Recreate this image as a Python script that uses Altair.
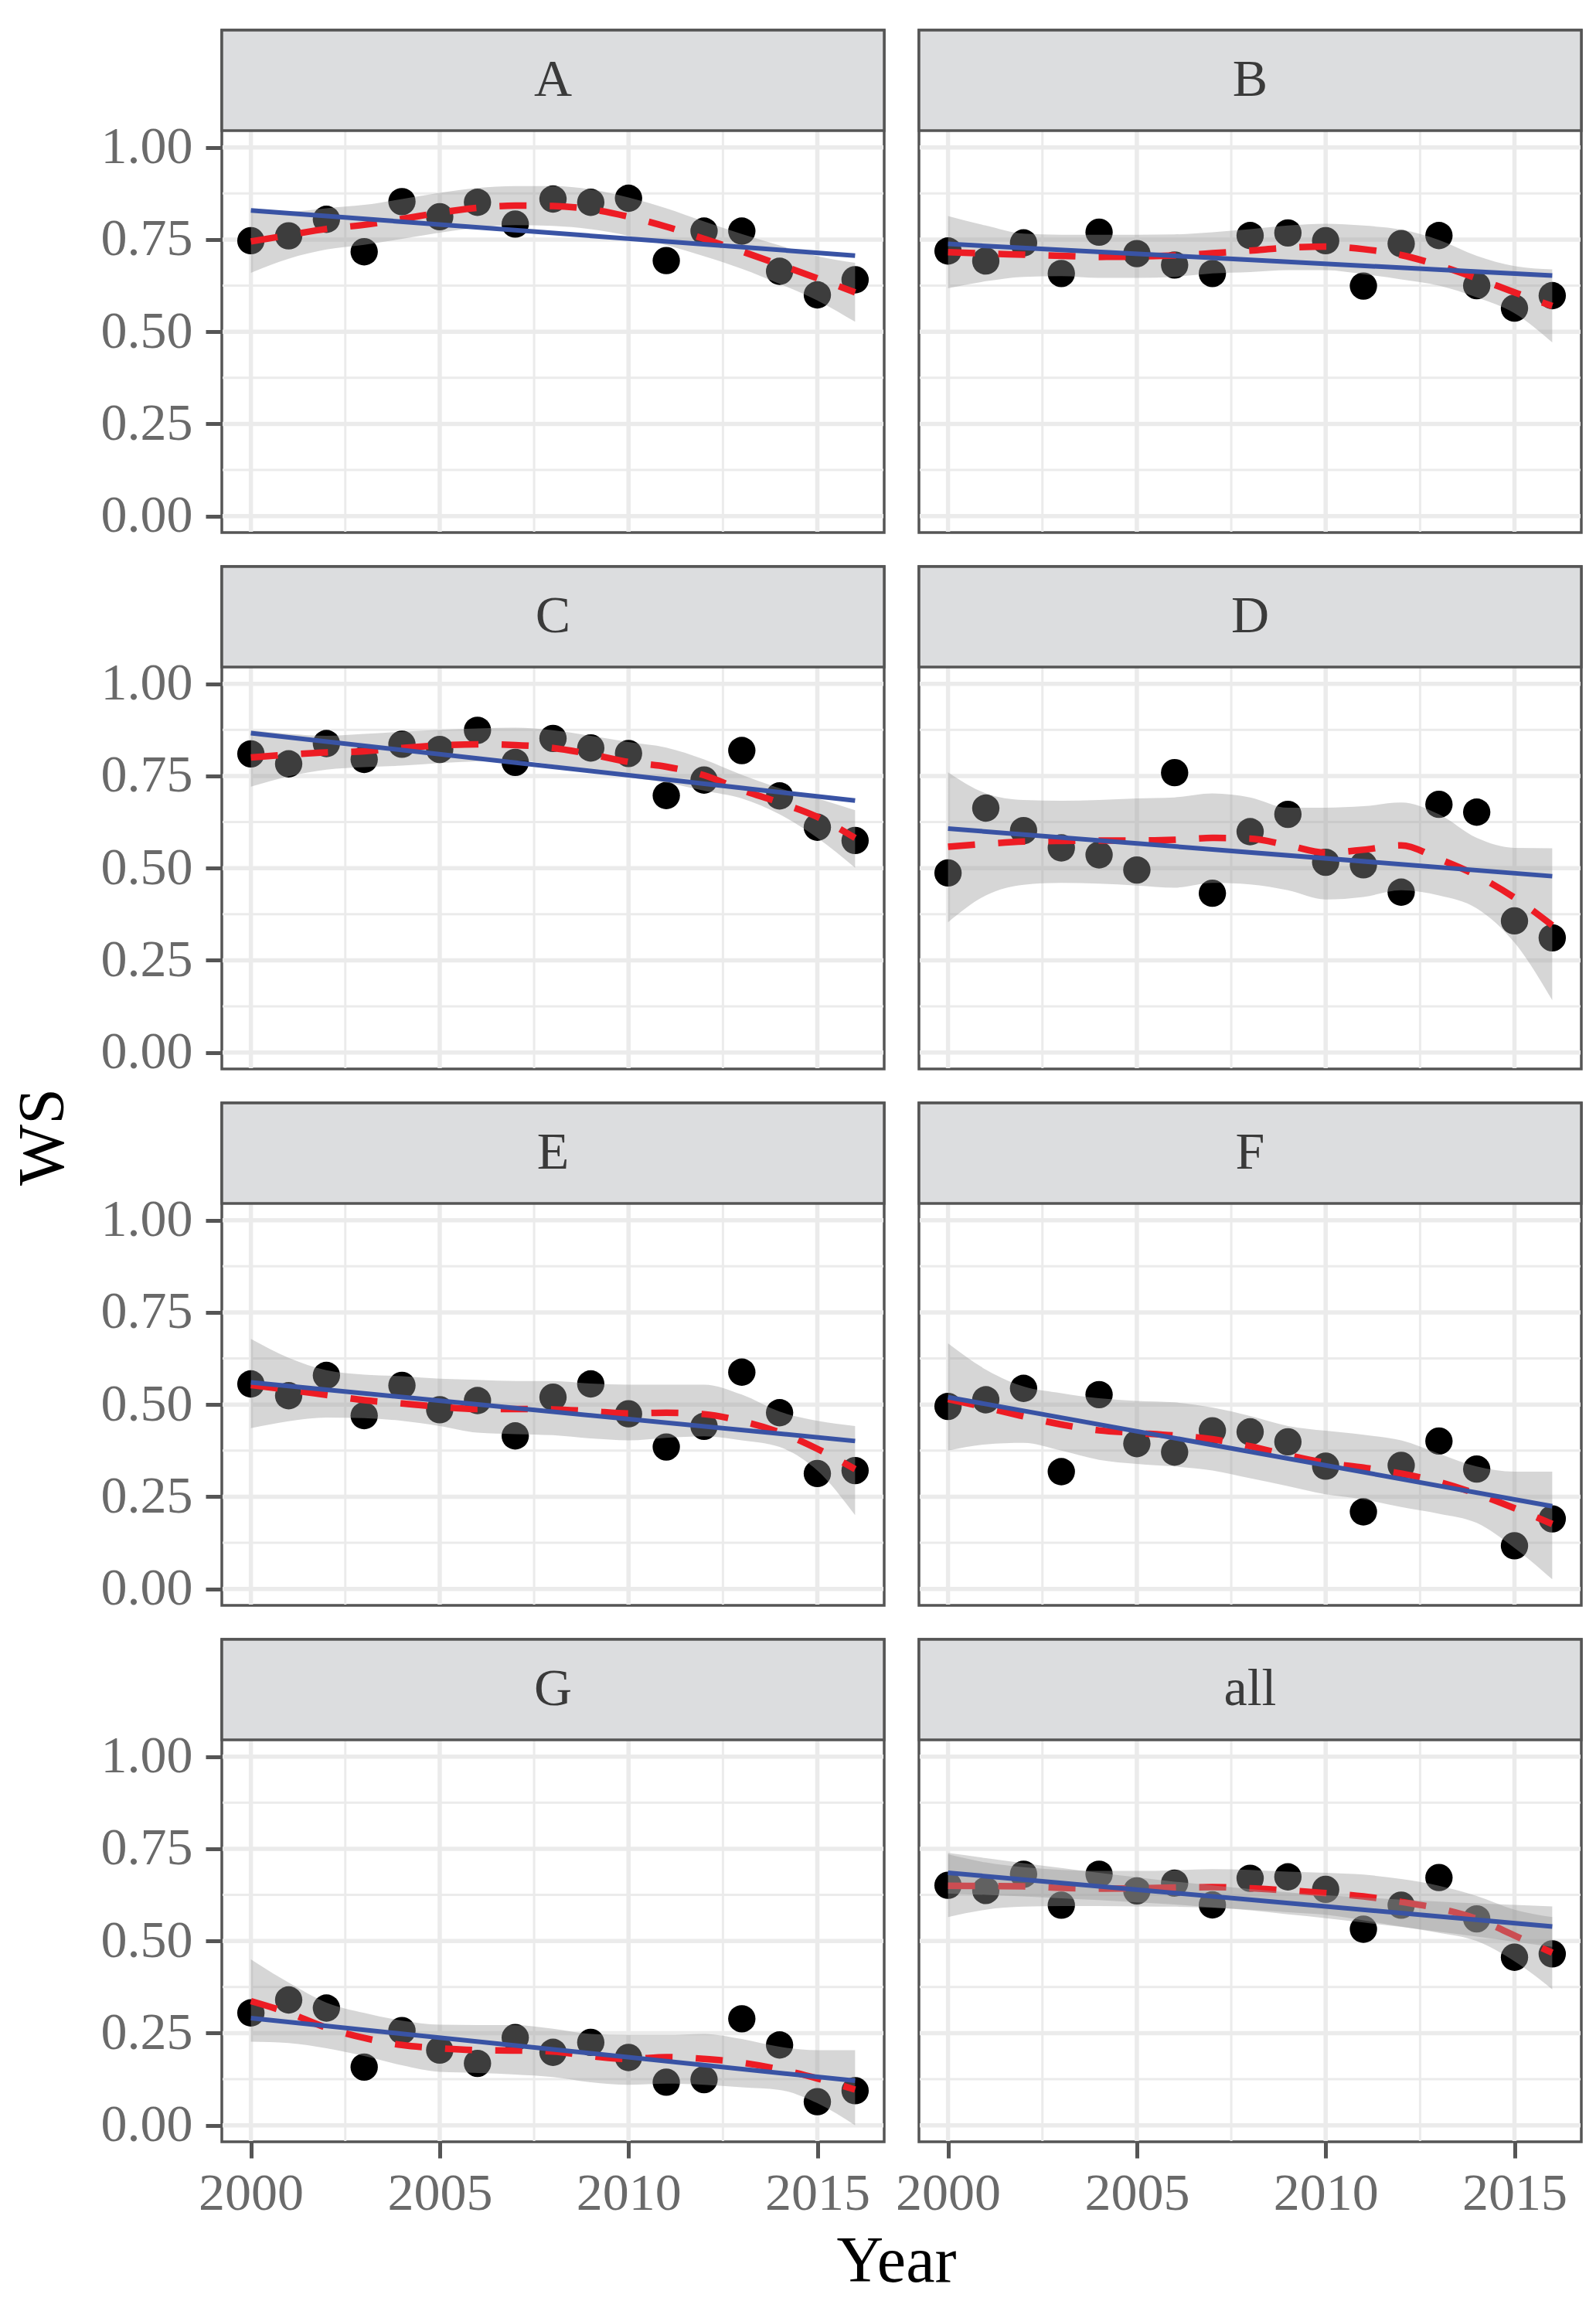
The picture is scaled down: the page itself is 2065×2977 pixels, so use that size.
import altair as alt
import pandas as pd

# ---------------- data ----------------
YEARS = list(range(2000, 2017))
PANELS = ["A", "B", "C", "D", "E", "F", "G", "all"]

WS_A = [0.747, 0.760, 0.805, 0.717, 0.853, 0.812, 0.851, 0.792, 0.860, 0.851, 0.862, 0.693, 0.773, 0.773, 0.664, 0.600, 0.641]
WS_B = [0.719, 0.692, 0.741, 0.658, 0.770, 0.712, 0.681, 0.658, 0.761, 0.768, 0.747, 0.624, 0.739, 0.761, 0.625, 0.564, 0.598]
WS_C = [0.810, 0.783, 0.838, 0.795, 0.836, 0.822, 0.874, 0.787, 0.852, 0.826, 0.811, 0.697, 0.739, 0.819, 0.696, 0.611, 0.575]
WS_D = [0.487, 0.663, 0.602, 0.555, 0.536, 0.495, 0.759, 0.432, 0.599, 0.646, 0.516, 0.509, 0.435, 0.673, 0.652, 0.357, 0.311]
WS_E = [0.556, 0.524, 0.579, 0.470, 0.552, 0.486, 0.511, 0.415, 0.520, 0.556, 0.475, 0.385, 0.441, 0.588, 0.478, 0.313, 0.321]
WS_F = [0.495, 0.513, 0.544, 0.318, 0.527, 0.394, 0.371, 0.429, 0.426, 0.399, 0.333, 0.209, 0.335, 0.401, 0.325, 0.117, 0.190]
WS_G = [0.305, 0.340, 0.318, 0.158, 0.257, 0.204, 0.168, 0.238, 0.198, 0.225, 0.184, 0.117, 0.124, 0.289, 0.218, 0.064, 0.094]
WS_ALL = [0.651, 0.637, 0.681, 0.597, 0.681, 0.636, 0.657, 0.598, 0.670, 0.674, 0.640, 0.532, 0.597, 0.672, 0.560, 0.456, 0.465]

# loess (red dashed) fit and its confidence band
FIT_A = [0.745, 0.762, 0.779, 0.790, 0.806, 0.823, 0.836, 0.842, 0.841, 0.832, 0.812, 0.785, 0.752, 0.718, 0.682, 0.645, 0.607]
HI_A = [0.830, 0.826, 0.835, 0.844, 0.860, 0.877, 0.890, 0.895, 0.895, 0.886, 0.864, 0.835, 0.799, 0.765, 0.734, 0.705, 0.687]
LO_A = [0.660, 0.698, 0.723, 0.736, 0.752, 0.769, 0.782, 0.789, 0.787, 0.778, 0.760, 0.735, 0.705, 0.671, 0.630, 0.585, 0.527]

FIT_B = [0.716, 0.712, 0.709, 0.706, 0.703, 0.704, 0.707, 0.713, 0.720, 0.728, 0.731, 0.724, 0.708, 0.680, 0.645, 0.607, 0.570]
HI_B = [0.814, 0.788, 0.766, 0.763, 0.763, 0.763, 0.764, 0.770, 0.778, 0.788, 0.793, 0.788, 0.777, 0.749, 0.706, 0.678, 0.669]
LO_B = [0.618, 0.637, 0.649, 0.651, 0.646, 0.646, 0.649, 0.658, 0.662, 0.667, 0.667, 0.656, 0.642, 0.625, 0.593, 0.550, 0.471]

FIT_C = [0.800, 0.808, 0.814, 0.817, 0.826, 0.833, 0.836, 0.834, 0.826, 0.809, 0.788, 0.775, 0.752, 0.712, 0.678, 0.639, 0.582]
HI_C = [0.874, 0.864, 0.859, 0.864, 0.870, 0.875, 0.879, 0.881, 0.874, 0.859, 0.842, 0.827, 0.795, 0.753, 0.717, 0.689, 0.657]
LO_C = [0.721, 0.749, 0.767, 0.774, 0.778, 0.785, 0.790, 0.792, 0.781, 0.763, 0.746, 0.732, 0.710, 0.689, 0.646, 0.582, 0.501]

FIT_D = [0.558, 0.566, 0.572, 0.574, 0.575, 0.575, 0.577, 0.582, 0.580, 0.562, 0.542, 0.550, 0.562, 0.525, 0.480, 0.420, 0.345]
HI_D = [0.760, 0.703, 0.685, 0.683, 0.685, 0.689, 0.692, 0.703, 0.692, 0.664, 0.664, 0.668, 0.678, 0.646, 0.582, 0.555, 0.554]
LO_D = [0.353, 0.426, 0.455, 0.460, 0.458, 0.453, 0.447, 0.460, 0.456, 0.440, 0.415, 0.422, 0.440, 0.426, 0.391, 0.298, 0.142]

FIT_E = [0.553, 0.540, 0.526, 0.512, 0.503, 0.494, 0.488, 0.488, 0.487, 0.482, 0.476, 0.478, 0.474, 0.455, 0.425, 0.380, 0.325]
HI_E = [0.678, 0.627, 0.593, 0.581, 0.577, 0.570, 0.567, 0.564, 0.564, 0.557, 0.554, 0.554, 0.554, 0.527, 0.481, 0.456, 0.442]
LO_E = [0.436, 0.455, 0.465, 0.463, 0.456, 0.442, 0.424, 0.420, 0.417, 0.408, 0.403, 0.410, 0.414, 0.403, 0.385, 0.321, 0.200]

FIT_F = [0.515, 0.492, 0.468, 0.446, 0.430, 0.423, 0.416, 0.406, 0.387, 0.363, 0.342, 0.329, 0.313, 0.290, 0.258, 0.219, 0.176]
HI_F = [0.666, 0.595, 0.549, 0.531, 0.517, 0.510, 0.506, 0.492, 0.469, 0.442, 0.429, 0.418, 0.403, 0.367, 0.332, 0.318, 0.318]
LO_F = [0.375, 0.392, 0.396, 0.375, 0.350, 0.339, 0.332, 0.321, 0.300, 0.279, 0.257, 0.243, 0.222, 0.204, 0.179, 0.111, 0.026]

FIT_G = [0.337, 0.305, 0.265, 0.237, 0.218, 0.209, 0.204, 0.203, 0.200, 0.188, 0.180, 0.185, 0.180, 0.170, 0.152, 0.127, 0.097]
HI_G = [0.450, 0.387, 0.333, 0.305, 0.284, 0.273, 0.272, 0.272, 0.262, 0.248, 0.245, 0.245, 0.248, 0.234, 0.213, 0.204, 0.204]
LO_G = [0.227, 0.223, 0.209, 0.188, 0.163, 0.145, 0.142, 0.138, 0.131, 0.117, 0.110, 0.113, 0.110, 0.103, 0.096, 0.060, 0.000]

FIT_ALL = [0.650, 0.649, 0.648, 0.644, 0.642, 0.643, 0.645, 0.646, 0.643, 0.637, 0.630, 0.621, 0.606, 0.588, 0.560, 0.515, 0.468]
HI_ALL = [0.735, 0.713, 0.700, 0.693, 0.690, 0.690, 0.692, 0.695, 0.693, 0.688, 0.685, 0.680, 0.668, 0.650, 0.622, 0.585, 0.565]
LO_ALL = [0.565, 0.585, 0.593, 0.595, 0.595, 0.594, 0.593, 0.590, 0.585, 0.578, 0.571, 0.556, 0.539, 0.522, 0.500, 0.445, 0.369]

# extra (linear-fit) band visible in the "all" panel
LM_HI_ALL = [0.739, 0.725, 0.711, 0.698, 0.685, 0.673, 0.661, 0.651, 0.641, 0.632, 0.624, 0.618, 0.612, 0.607, 0.602, 0.598, 0.594]
LM_LO_ALL = [0.629, 0.625, 0.621, 0.616, 0.611, 0.605, 0.599, 0.591, 0.583, 0.572, 0.562, 0.550, 0.538, 0.525, 0.512, 0.498, 0.484]

X_TICKS = [2000, 2005, 2010, 2015]
X_MINOR = [2002.5, 2007.5, 2012.5]
Y_TICKS = [0.0, 0.25, 0.50, 0.75, 1.00]
Y_MINOR = [0.125, 0.375, 0.625, 0.875]

# ---------------- styling / layout ----------------
FONT = "Liberation Serif"
BORDER = "#555555"
GRID = "#EBEBEB"
LABEL = "#6A6A6A"
STRIP_FILL = "#DCDDDF"
RED = "#ED1C24"
BLUE = "#3953A4"

W = 857
PLOT_H = 520
STRIP_H = 130
CELL_H = PLOT_H + STRIP_H
ROW_GAP = 44
COL_GAP = 45
X_LO, X_HI = 1999.23, 2016.77
Y_LO, Y_HI = -0.0446, 1.0455
Y_TOP = Y_HI + STRIP_H * (Y_HI - Y_LO) / PLOT_H
Y_STRIP_MID = Y_HI + 0.5 * STRIP_H * (Y_HI - Y_LO) / PLOT_H
PX_Y = (Y_HI - Y_LO) / PLOT_H   # one pixel in y data units
PX_X = (X_HI - X_LO) / W        # one pixel in x data units

XSCALE = alt.Scale(domain=[X_LO, X_HI], nice=False, zero=False)
YSCALE = alt.Scale(domain=[Y_LO, Y_TOP], nice=False, zero=False)
XAXIS = alt.Axis(values=X_TICKS, format="d", title=None, labelFlush=False, grid=False)
YAXIS = alt.Axis(values=Y_TICKS, format=".2f", title=None, labelFlush=False, grid=False)


def panel(label, ws, fit, lo, hi, show_x, show_y, lm_lo=None, lm_hi=None):
    xaxis = XAXIS if show_x else None
    yaxis = YAXIS if show_y else None
    pts_df = pd.DataFrame({"year": YEARS, "ws": ws})
    fit_df = pd.DataFrame({"year": YEARS, "fit": fit, "lo": lo, "hi": hi})
    strip_df = pd.DataFrame({"panel": [label]})

    def xq(field):
        return alt.X(field, type="quantitative", scale=XSCALE, axis=xaxis)

    def yq(field):
        return alt.Y(field, type="quantitative", scale=YSCALE, axis=yaxis)

    def vrules(values, width):
        return alt.Chart(pd.DataFrame({"gx": values})).mark_rule(
            color=GRID, strokeWidth=width
        ).encode(
            x=xq("gx"),
            y=alt.YDatum(Y_LO + PX_Y, scale=YSCALE, axis=yaxis),
            y2=alt.datum(Y_HI),
        )

    def hrules(values, width):
        return alt.Chart(pd.DataFrame({"gy": values})).mark_rule(
            color=GRID, strokeWidth=width
        ).encode(
            y=yq("gy"),
            x=alt.XDatum(X_LO + PX_X, scale=XSCALE, axis=xaxis),
            x2=alt.datum(X_HI - PX_X),
        )

    points = alt.Chart(pts_df).mark_circle(size=1250, color="black", opacity=1).encode(
        x=xq("year"), y=yq("ws")
    )
    band = alt.Chart(fit_df).mark_area(
        color="#999999", opacity=0.4, interpolate="monotone"
    ).encode(x=xq("year"), y=yq("lo"), y2=alt.Y2("hi"))
    loess = alt.Chart(fit_df).mark_line(
        color=RED, strokeWidth=8.5, strokeDash=[35, 30], interpolate="monotone"
    ).encode(x=xq("year"), y=yq("fit"))
    lm = alt.Chart(pts_df).transform_regression("year", "ws").mark_line(
        color=BLUE, strokeWidth=6
    ).encode(x=xq("year"), y=yq("ws"))

    strip = alt.Chart(strip_df).mark_rect(
        fill=STRIP_FILL, stroke=BORDER, strokeWidth=3.5
    ).encode(
        x=alt.value(0),
        x2=alt.value(W),
        y=alt.YDatum(Y_HI, scale=YSCALE, axis=yaxis),
        y2=alt.datum(Y_TOP),
    )
    strip_text = alt.Chart(strip_df).mark_text(
        font=FONT, fontSize=68, color="#3A3A3A", align="center", baseline="middle"
    ).encode(
        x=alt.value(W / 2),
        y=alt.YDatum(Y_STRIP_MID, scale=YSCALE, axis=yaxis),
        text=alt.Text("panel:N"),
    )

    layers = [
        vrules(X_MINOR, 3), hrules(Y_MINOR, 3),
        vrules(X_TICKS, 5.5), hrules(Y_TICKS, 5.5),
        points, band, loess,
    ]
    if lm_lo is not None:
        lm_df = pd.DataFrame({"year": YEARS, "lo2": lm_lo, "hi2": lm_hi})
        band2 = alt.Chart(lm_df).mark_area(
            color="#999999", opacity=0.4, interpolate="monotone"
        ).encode(x=xq("year"), y=yq("lo2"), y2=alt.Y2("hi2"))
        layers.append(band2)
    layers += [lm, strip, strip_text]

    return alt.layer(*layers).properties(
        width=W,
        height=CELL_H,
        view=alt.ViewBackground(fill="white", stroke=BORDER, strokeWidth=3.5),
    )


pA = panel("A", WS_A, FIT_A, LO_A, HI_A, False, True)
pB = panel("B", WS_B, FIT_B, LO_B, HI_B, False, False)
pC = panel("C", WS_C, FIT_C, LO_C, HI_C, False, True)
pD = panel("D", WS_D, FIT_D, LO_D, HI_D, False, False)
pE = panel("E", WS_E, FIT_E, LO_E, HI_E, False, True)
pF = panel("F", WS_F, FIT_F, LO_F, HI_F, False, False)
pG = panel("G", WS_G, FIT_G, LO_G, HI_G, True, True)
pAll = panel("all", WS_ALL, FIT_ALL, LO_ALL, HI_ALL, True, False, LM_LO_ALL, LM_HI_ALL)

grid = alt.concat(
    pA, pB, pC, pD, pE, pF, pG, pAll,
    columns=2,
    spacing={"row": ROW_GAP, "column": COL_GAP},
    bounds="flush",
)

NOVIEW = alt.ViewBackground(stroke="transparent", strokeWidth=0)

ws_title = alt.Chart(pd.DataFrame({"t": ["WS"]})).mark_text(
    font=FONT, fontSize=84, color="black", angle=270, align="center", baseline="middle"
).encode(text="t:N", x=alt.value(49), y=alt.value(1432)).properties(
    width=110, height=4 * CELL_H + 3 * ROW_GAP, view=NOVIEW
)

year_title = alt.Chart(pd.DataFrame({"t": ["Year"]})).mark_text(
    font=FONT, fontSize=84, color="black", align="center", baseline="alphabetic"
).encode(text="t:N", x=alt.value(1152), y=alt.value(68)).properties(
    width=1900, height=80, view=NOVIEW
)

chart = alt.vconcat(
    alt.hconcat(ws_title, grid, spacing=10),
    year_title,
    spacing=10,
).properties(
    padding={"left": 0, "top": 27, "right": 0, "bottom": 0}
).configure_view(
    strokeWidth=0
).configure_axis(
    labelFont=FONT,
    labelFontSize=68,
    labelColor=LABEL,
    tickColor=BORDER,
    tickWidth=5,
    tickSize=21,
    domain=False,
).configure_axisX(
    labelPadding=12
).configure_axisY(
    labelPadding=17
)

chart.save("out.html", embed_options={"renderer": "svg", "actions": False})
